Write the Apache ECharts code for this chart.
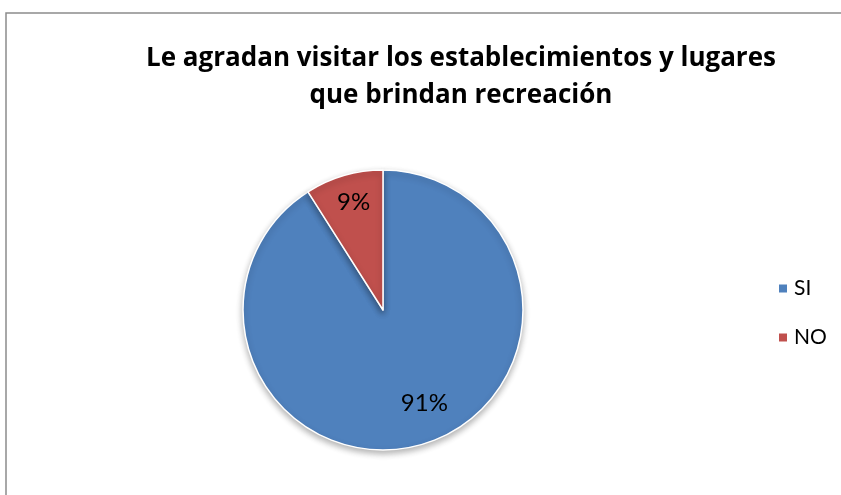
<!DOCTYPE html>
<html><head><meta charset="utf-8">
<script src="https://cdn.jsdelivr.net/npm/echarts@6/dist/echarts.min.js"></script>
<style>html,body{margin:0;padding:0;background:#fff}#c{width:841px;height:495px}</style>
</head><body><div id="c"></div>
<script>
const titleLines = ['Le agradan visitar los establecimientos y lugares', 'que brindan recreación'];
const categories = ['SI', 'NO'];
const values = [91, 9];
const colors = ['#4F81BD', '#C0504D'];
const labelOffsets = [[21, 23], [-9, -38]];

const chart = echarts.init(document.getElementById('c'), null, {renderer: 'canvas'});
chart.setOption({
  animation: false,
  backgroundColor: '#fff',
  title: {
    text: titleLines.join('\n'),
    left: 456, top: 35, textAlign: 'center',
    textStyle: {fontFamily: 'Open Sans', fontWeight: 'bold', fontSize: 26, lineHeight: 37, color: '#000'}
  },
  graphic: [{
    type: 'rect', shape: {x: 6, y: 13, width: 900, height: 600},
    style: {fill: 'none', stroke: '#8c8c8c', lineWidth: 1.5}, silent: true
  }],
  legend: {
    orient: 'vertical', left: 772, top: 273, itemGap: 28,
    icon: 'rect', itemWidth: 10, itemHeight: 10,
    textStyle: {fontFamily: 'Lato', fontSize: 21, color: '#000', padding: [0, 0, 0, 1]},
    data: categories
  },
  series: [{
    type: 'pie', center: [383, 310], radius: 140,
    startAngle: 90, clockwise: true,
    itemStyle: {borderColor: '#fff', borderWidth: 1.5, shadowColor: 'rgba(0,0,0,0.3)', shadowBlur: 6, shadowOffsetY: 3},
    label: {show: true, position: 'inside', formatter: '{d}%', fontFamily: 'Lato', fontSize: 24, color: '#000'},
    labelLine: {show: false},
    emphasis: {disabled: true},
    data: categories.map((c, i) => ({name: c, value: values[i], itemStyle: {color: colors[i]}, label: {offset: labelOffsets[i]}}))
  }]
});
</script></body></html>
